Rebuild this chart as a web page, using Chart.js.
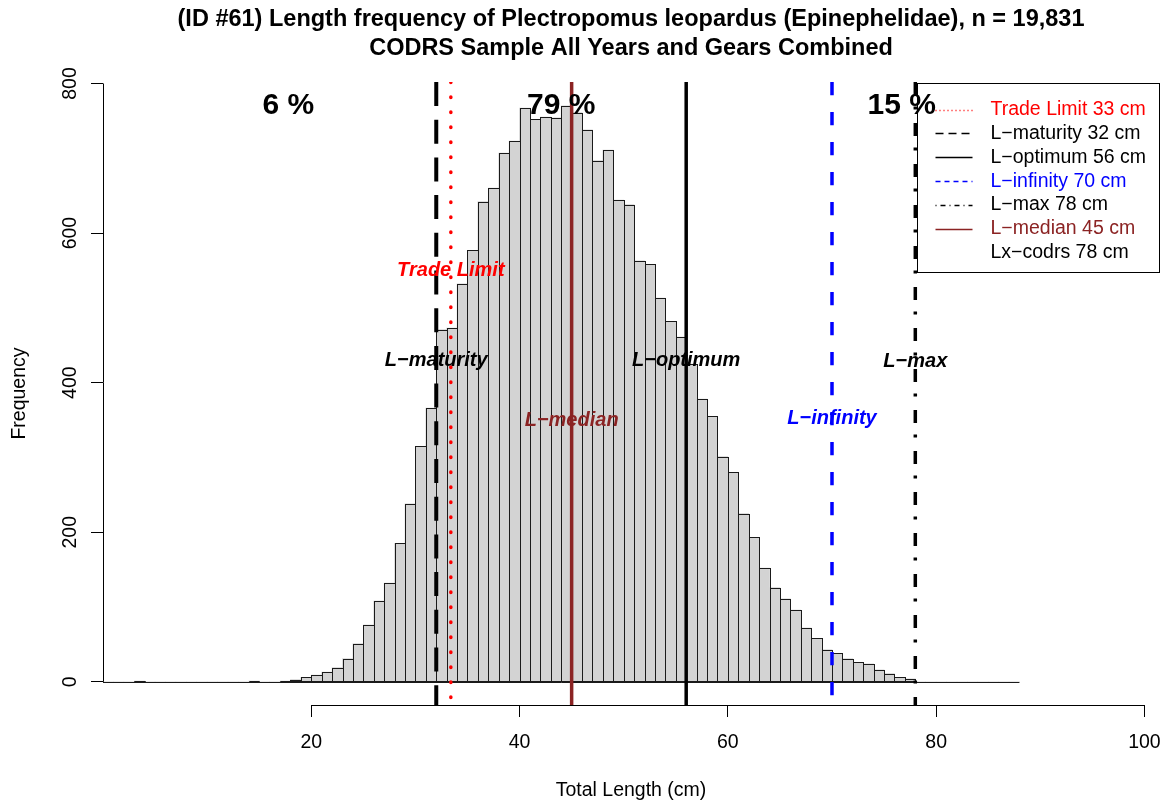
<!DOCTYPE html>
<html>
<head>
<meta charset="utf-8">
<script src="https://cdn.jsdelivr.net/npm/chart.js@4.4.1/dist/chart.umd.min.js"></script>
<style>
  html, body { margin: 0; background: #fff; }
</style>
</head>
<body>
<canvas id="chart" width="1172" height="805"></canvas>
<script>
const FONT = "\"Liberation Sans\", Arial, Helvetica, sans-serif"

// 1 cm bins, first bin starts at binStart
const binStart = 0
const counts = [
  0, 0, 0, 1, 0, 0, 0, 0, 0, 0,
  0, 0, 0, 0, 1, 0, 0, 1, 3, 6,
  9, 13, 19, 31, 51, 76, 108, 132, 185, 238,
  315, 366, 471, 473, 532, 577, 642, 660, 707, 723,
  767, 752, 755, 754, 770, 761, 738, 697, 711, 644,
  638, 563, 558, 513, 482, 461, 425, 378, 355, 301,
  280, 225, 193, 152, 126, 111, 96, 72, 58, 43,
  38, 31, 26, 24, 16, 11, 6, 4, 0, 0,
  0, 0, 0, 0, 0, 0, 0, 0,
]

const xTicks = [20, 40, 60, 80, 100]
const yTicks = [0, 200, 400, 600, 800]
const xMin = 0
const xMax = 101.4
const yMin = -31
const yMax = 802

// reference lengths (cm)
const refNames = ["Trade Limit", "L\u2212maturity", "L\u2212optimum", "L\u2212infinity", "L\u2212max", "L\u2212median"]
const refValues = [33.4, 32, 56, 70, 78, 45]
const refLabelY = [550, 430, 430, 352, 428, 350]

const legendLabels = [
  "Trade Limit 33 cm",
  "L\u2212maturity 32 cm",
  "L\u2212optimum 56 cm",
  "L\u2212infinity 70 cm",
  "L\u2212max 78 cm",
  "L\u2212median 45 cm",
  "Lx\u2212codrs 78 cm",
]

const pctLabels = ["6 %", "79 %", "15 %"]
const pctX = [17.8, 44, 76.7]
const pctY = 770

const BROWN = "#8B2323"
const refStyles = [
  { color: "#ff0000", width: 3.5, dash: [0.5, 14.5], cap: "round" },
  { color: "#000000", width: 4, dash: [24, 13.7], cap: "butt" },
  { color: "#000000", width: 3.5, dash: [], cap: "butt" },
  { color: "#0000ff", width: 3.5, dash: [13.3, 16.7], cap: "butt" },
  { color: "#000000", width: 3.5, dash: [13, 11.5, 3, 13.5], cap: "butt" },
  { color: BROWN, width: 3.5, dash: [], cap: "butt" },
]
const legendStyles = [
  { color: "#ff0000", text: "#ff0000", dash: [1, 3], show: true },
  { color: "#000000", text: "#000000", dash: [8, 5], show: true },
  { color: "#000000", text: "#000000", dash: [], show: true },
  { color: "#0000ff", text: "#0000ff", dash: [5, 4], show: true },
  { color: "#000000", text: "#000000", dash: [1, 4, 5, 4], show: true },
  { color: BROWN, text: BROWN, dash: [], show: true },
  { color: "#000000", text: "#000000", dash: [], show: false },
]

const histPlugin = {
  id: "histDecor",
  afterDatasetDraw(chart, args) {
    if (args.index !== 0) return
    const { ctx, scales } = chart
    ctx.save()
    ctx.strokeStyle = "#1a1a1a"
    ctx.lineWidth = 1
    args.meta.data.forEach((el, i) => {
      if (!counts[i]) return
      const { x, y, base, width } = el.getProps(["x", "y", "base", "width"], true)
      const l = Math.round(x - width / 2) + 0.5
      const r = Math.round(x + width / 2) + 0.5
      const t = Math.round(y) + 0.5
      const b = Math.round(base) + 0.5
      ctx.strokeRect(l, t, r - l, b - t)
    })
    // zero line across all bins
    const y0 = Math.round(scales.y.getPixelForValue(0)) + 0.5
    ctx.beginPath()
    ctx.moveTo(scales.x.getPixelForValue(binStart), y0)
    ctx.lineTo(scales.x.getPixelForValue(binStart + counts.length), y0)
    ctx.stroke()
    ctx.restore()
  },
  afterDraw(chart) {
    const { ctx, scales, chartArea } = chart
    const xs = scales.x
    const ys = scales.y
    ctx.save()
    ctx.strokeStyle = "#000"
    ctx.lineWidth = 1

    // axis lines only spanning the tick range, like base R
    const axY = Math.round(chartArea.bottom) + 0.5
    ctx.beginPath()
    ctx.moveTo(xs.getPixelForValue(xTicks[0]), axY)
    ctx.lineTo(xs.getPixelForValue(xTicks[xTicks.length - 1]), axY)
    ctx.stroke()
    const axX = Math.round(chartArea.left) + 0.5
    ctx.beginPath()
    ctx.moveTo(axX, ys.getPixelForValue(yTicks[0]))
    ctx.lineTo(axX, ys.getPixelForValue(yTicks[yTicks.length - 1]))
    ctx.stroke()

    // rotated y tick labels
    ctx.fillStyle = "#000"
    ctx.font = "19.5px " + FONT
    ctx.textAlign = "center"
    ctx.textBaseline = "alphabetic"
    yTicks.forEach(v => {
      ctx.save()
      ctx.translate(75.5, ys.getPixelForValue(v))
      ctx.rotate(-Math.PI / 2)
      ctx.fillText(String(v), 0, 0)
      ctx.restore()
    })

    // labels next to the reference lines
    ctx.font = "italic bold 20px " + FONT
    ctx.textBaseline = "middle"
    refNames.forEach((name, i) => {
      ctx.fillStyle = refStyles[i].color
      ctx.fillText(name, xs.getPixelForValue(refValues[i]), ys.getPixelForValue(refLabelY[i]))
    })

    // legend, top right of the plot region
    const boxW = 242
    const boxH = 189
    const bx = chartArea.right - boxW
    const by = chartArea.top + 1
    ctx.lineWidth = 1
    ctx.setLineDash([])
    ctx.strokeRect(Math.round(bx) + 0.5, Math.round(by) + 0.5, boxW, boxH)
    ctx.font = "19.5px " + FONT
    ctx.textAlign = "left"
    legendLabels.forEach((label, i) => {
      const st = legendStyles[i]
      const ry = by + 26.5 + i * 23.9
      if (st.show) {
        ctx.strokeStyle = st.color
        ctx.lineWidth = 1.3
        ctx.setLineDash(st.dash)
        ctx.beginPath()
        ctx.moveTo(bx + 18.5, Math.round(ry) + 0.5)
        ctx.lineTo(bx + 55.5, Math.round(ry) + 0.5)
        ctx.stroke()
      }
      ctx.fillStyle = st.text
      ctx.fillText(label, bx + 73.5, ry)
    })
    ctx.setLineDash([])

    // share of fish in each range
    ctx.fillStyle = "#000"
    ctx.font = "bold 30px " + FONT
    ctx.textAlign = "center"
    pctLabels.forEach((t, i) => {
      ctx.fillText(t, xs.getPixelForValue(pctX[i]), ys.getPixelForValue(pctY))
    })
    ctx.restore()
  },
}

const datasets = [
  {
    type: "bar",
    data: counts.map((c, i) => ({ x: binStart + i + 0.5, y: c })),
    backgroundColor: "#d3d3d3",
    borderWidth: 0,
    barPercentage: 1,
    categoryPercentage: 1,
    order: 2,
  },
  ...refValues.map((v, i) => ({
    type: "line",
    data: [{ x: v, y: yMax }, { x: v, y: yMin }],
    borderColor: refStyles[i].color,
    borderWidth: refStyles[i].width,
    borderDash: refStyles[i].dash,
    borderCapStyle: refStyles[i].cap,
    pointRadius: 0,
    fill: false,
    order: 1,
  })),
]

new Chart(document.getElementById("chart"), {
  type: "bar",
  data: { datasets },
  plugins: [histPlugin],
  options: {
    responsive: false,
    animation: false,
    devicePixelRatio: 1,
    layout: { padding: { left: 0, right: 13, top: 0, bottom: 0 } },
    plugins: {
      legend: { display: false },
      tooltip: { enabled: false },
      title: {
        display: true,
        fullSize: false,
        text: [
          "(ID #61) Length frequency of Plectropomus leopardus (Epinephelidae), n = 19,831",
          "CODRS Sample All Years and Gears Combined",
        ],
        color: "#000",
        font: { family: FONT, size: 23.5, weight: "bold", lineHeight: "29px" },
        padding: { top: 5.5, bottom: 18.5 },
      },
    },
    scales: {
      x: {
        type: "linear",
        min: xMin,
        max: xMax,
        offset: false,
        afterBuildTicks: s => { s.ticks = xTicks.map(v => ({ value: v })) },
        afterFit: s => {
          s.height = 100
          s.paddingLeft = 0
          s.paddingRight = 0
        },
        grid: { display: true, offset: false, drawOnChartArea: false, drawTicks: true, tickLength: 12, color: "#000", lineWidth: 1 },
        border: { display: false },
        ticks: { color: "#000", font: { family: FONT, size: 19.5 }, padding: 14, maxRotation: 0, autoSkip: false },
        title: {
          display: true,
          text: "Total Length (cm)",
          color: "#000",
          font: { family: FONT, size: 19.5 },
          padding: { top: 0, bottom: 3 },
        },
      },
      y: {
        type: "linear",
        min: yMin,
        max: yMax,
        afterBuildTicks: s => { s.ticks = yTicks.map(v => ({ value: v })) },
        afterFit: s => {
          s.width = 103
          s.paddingTop = 0
          s.paddingBottom = 0
        },
        grid: { display: true, offset: false, drawOnChartArea: false, drawTicks: true, tickLength: 12, color: "#000", lineWidth: 1 },
        border: { display: false },
        ticks: { display: false },
        title: {
          display: true,
          text: "Frequency",
          color: "#000",
          font: { family: FONT, size: 19.5 },
          padding: { top: 8, bottom: 0 },
        },
      },
    },
  },
})
</script>
</body>
</html>
